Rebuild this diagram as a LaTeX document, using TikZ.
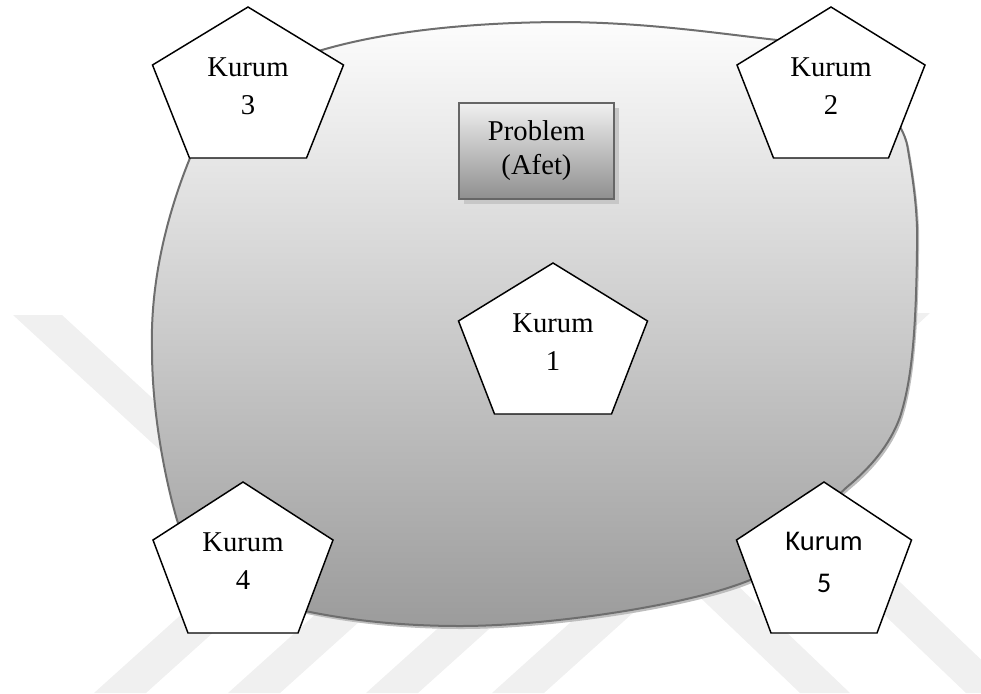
\documentclass[tikz,border=0pt]{standalone}
\usepackage{fontspec}
\setmainfont{Liberation Serif}
\newfontfamily\calfont{Carlito}
\usetikzlibrary{shadows}
\definecolor{blobline}{HTML}{6E6E6E}
\definecolor{blobshadow}{HTML}{BDBDBD}
\definecolor{boxline}{HTML}{666666}
\definecolor{wmark}{HTML}{F0F0F0}
\newcommand{\kurumpent}[6]{%
  \draw[pentline] (#2,#3) -- (#2+#4,#3+58) -- (#2+#5,#3+151) -- (#2-#5,#3+151) -- (#2-#4,#3+58) -- cycle;
  \node[ktext] (#1) at (#2,#3+79) {#6};
}
\newcommand{\blobpath}{(152,350)
  .. controls (150,280) and (168,212) .. (190,158)
  .. controls (204,111) and (267,61) .. (322,50)
  .. controls (390,30) and (480,22) .. (567,22)
  .. controls (650,23) and (715,33) .. (777,40)
  .. controls (827,47) and (903,105) .. (908,150)
  .. controls (915,190) and (918,220) .. (917,250)
  .. controls (916,330) and (912,380) .. (900,417)
  .. controls (890,445) and (870,468) .. (847,487)
  .. controls (817,513) and (790,568) .. (750,580)
  .. controls (690,605) and (550,626) .. (460,626)
  .. controls (400,626) and (350,620) .. (310,612)
  .. controls (262,604) and (187,553) .. (177,520)
  .. controls (164,475) and (152,410) .. (152,350) -- cycle}
\begin{document}
\begin{tikzpicture}[x=0.75pt,y=-0.75pt,
  pentline/.style={draw=black, line width=1.1pt, fill=white, line join=miter},
  ktext/.style={align=center, inner sep=0pt, font=\fontsize{21.5}{28.5}\selectfont},
  ktextcal/.style={align=center, inner sep=0pt, font=\calfont\fontsize{21.4}{31.5}\selectfont},
  probbox/.style={draw=boxline, line width=1.8pt, top color=white!94!black, bottom color=black!44,
    minimum width=116pt, minimum height=72pt, inner sep=0pt, align=center,
    font=\fontsize{21.5}{25.5}\selectfont,
    drop shadow={shadow xshift=3.5pt, shadow yshift=-3.5pt, fill=black!22, opacity=1}},
  wm/.style={fill=wmark}]
\useasboundingbox (0,0) rectangle (981,693);
% faint background stripes
\begin{scope}
\clip (0,0) rectangle (981,693);
\fill[wm] (13,315) -- (62,315) -- (262,499) -- (213,499) -- cycle;
\fill[wm] (880,313) -- (930,313) -- (730,497) -- (680,497) -- cycle;
\foreach \xa in {94,228,366,492}{
  \fill[wm] (\xa,693) -- (\xa+52,693) -- (\xa+202,558) -- (\xa+150,558) -- cycle;
}
\fill[wm] (640,540) -- (690,540) -- (850,693) -- (800,693) -- cycle;
\fill[wm] (806,540) -- (856,540) -- (1016,693) -- (966,693) -- cycle;
\end{scope}
% blob
\fill[blobshadow, shift={(2,3)}] \blobpath;
\shade[top color=white!99!black, bottom color=black!39] \blobpath;
\draw[blobline, line width=1.5pt] \blobpath;
% problem box
\node[probbox] (prob) at (536.5,151) {Problem\\(Afet)};
% pentagons
\kurumpent{k3}{248}{7}{95.5}{58.5}{Kurum\\3}
\kurumpent{k2}{831}{7}{94}{57.5}{Kurum\\2}
\kurumpent{k1}{553}{263}{94.5}{58.5}{Kurum\\1}
\kurumpent{k4}{243}{482}{90}{55}{Kurum\\4}
\draw[pentline] (824,482) -- (911.5,540) -- (877,633) -- (771,633) -- (736.5,540) -- cycle;
\node[ktextcal] (k5) at (824,562) {Kurum\\5};
\end{tikzpicture}
\end{document}
